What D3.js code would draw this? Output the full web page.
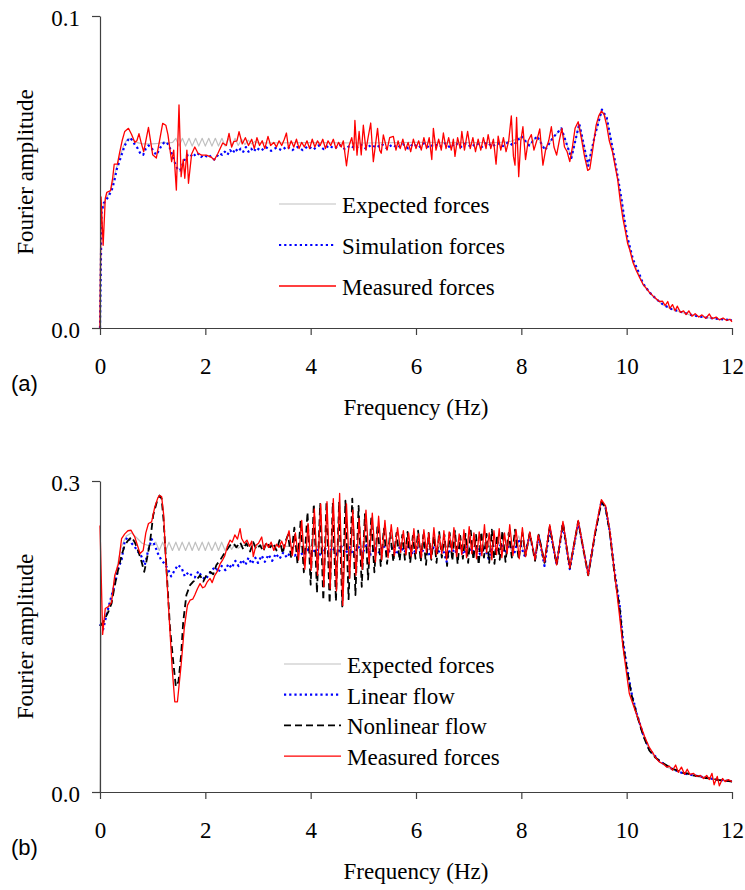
<!DOCTYPE html>
<html>
<head>
<meta charset="utf-8">
<script src="https://cdn.jsdelivr.net/npm/d3@7"></script>
<style>
  body { margin: 0; background: #fff; }
</style>
</head>
<body>
<div id="chart"></div>
<script>
// amplitudes are stored in units of 1e-3, pairs are [frequency Hz, amplitude]
const xTicks = [0, 2, 4, 6, 8, 10, 12]
const yTicksA = [0, 0.1]
const yTicksB = [0, 0.3]
const legendA = ["Expected forces", "Simulation forces", "Measured forces"]
const legendB = ["Expected forces", "Linear flow", "Nonlinear flow", "Measured forces"]

// (a) expected forces
const expectedA = [[0,0],[0.02,37],[0.1,41],[0.2,44],[0.25,47],[0.3,50.5],[0.35,53.5],[0.4,56],[0.45,58.5],[0.5,60],[0.55,60.8],[0.6,60.5],[0.7,59.5],[0.8,59],[0.9,59],[1.0,59],[1.1,59.2],[1.2,59.5],[1.3,59.3],[1.38,59.5],
  [1.44,60.8],[1.5,58.3],[1.565,60.8],[1.625,58.3],[1.69,60.8],[1.75,58.3],[1.815,60.8],[1.875,58.3],[1.94,60.8],[2.0,58.3],[2.065,60.8],[2.125,58.3],[2.19,60.8],[2.25,58.3],[2.315,60.8],[2.375,58.3],[2.44,60.8],[2.5,58.3],[2.565,60.8],[2.625,58.5],[2.69,60.5],[2.75,58.8],[2.815,60.2],[2.875,59],[2.94,59.8],[3.0,59.3],
  [4.0,59.4],[5.0,59.3],[6.0,59.5],[7.0,59.4],[7.6,59.5],[7.8,59.8],[8.0,61.2],[8.15,58.6],[8.3,61.3],[8.45,57.3],[8.6,61],[8.76,63.8],[8.95,54.6],[9.1,65.3],[9.27,52.3],[9.4,62],[9.53,69.6],[9.62,67.2],[9.7,60.3],[9.8,51.2],[9.9,41.3],[10.0,29.5],[10.12,21.5],[10.2,18.5],[10.31,14],[10.43,11.3],[10.56,9.2],[10.7,7.3],[10.85,6],[11.0,5.2],[11.2,4.2],[11.4,3.6],[11.64,3.1],[11.8,2.8],[12,2.5]]

// (a) simulation forces
const simulationA = [[0,0],[0.03,37],[0.07,40],[0.12,41],[0.17,42.5],[0.22,44],[0.27,47],[0.32,51],[0.37,53.5],[0.42,56],[0.47,58.5],[0.52,60],[0.57,61],[0.62,60],[0.67,58.5],[0.72,57.5],[0.77,55.8],[0.82,55.5],[0.87,57.5],[0.92,58.5],[0.97,58],[1.02,56.5],[1.07,55.5],[1.12,57],[1.17,58.5],[1.22,59.5],[1.27,59.5],[1.32,58],[1.37,55.5],[1.42,53],[1.47,51],[1.52,50.5],[1.57,52.5],[1.62,54.5],[1.67,55.5],[1.72,55],[1.77,56],[1.82,55],[1.87,55.8],[1.92,54.8],[1.97,55.5],[2.02,55],[2.07,55.5],[2.12,54.5],[2.17,54],[2.22,55],[2.27,56],[2.32,55.5],[2.37,56.5],[2.42,55.5],[2.47,57],[2.52,56],[2.57,57.5],[2.62,56.5],[2.67,57.5],[2.72,56.5],[2.77,58],[2.82,56.5],[2.87,57.5],[2.92,56.5],[2.97,57.8],
  [3.05,56.8],[3.15,58],[3.25,56.8],[3.35,57.8],[3.45,57],[3.55,58.2],[3.65,57],[3.75,58],[3.85,57],[3.95,58.3],[4.05,57.2],[4.15,58.5],[4.25,57.3],[4.35,58.5],[4.45,57.5],[4.55,58.7],[4.65,57.3],[4.75,58.5],[4.85,57.5],[4.95,58.8],[5.05,57.5],[5.15,58.7],[5.25,57.8],[5.35,59],[5.45,57.5],[5.55,58.8],[5.65,57.8],[5.75,59],[5.85,57.6],[5.95,59],[6.05,57.8],[6.15,59.2],[6.25,57.8],[6.35,59],[6.45,58],[6.55,59.2],[6.65,57.8],[6.75,59.3],[6.85,58],[6.95,59.2],[7.05,58],[7.15,59.3],[7.25,58],[7.35,59.5],[7.45,58.2],[7.55,59.3],[7.65,58.3],[7.75,59.5],[7.85,58.5],
  [8.0,61.5],[8.15,58.5],[8.3,61.5],[8.45,57],[8.6,61],[8.76,64],[8.95,54.5],[9.1,65.5],[9.27,52],[9.4,62],[9.53,70],[9.62,67.5],[9.7,60.5],[9.8,51.5],[9.9,41.5],[10.0,30],[10.12,22],[10.2,19],[10.31,14.3],[10.43,11.5],[10.56,9.3],[10.7,7.4],[10.85,6.1],[11.0,5.3],[11.2,4.3],[11.4,3.6],[11.64,3.1],[11.8,2.8],[12,2.5]]

// (a) measured forces
const measuredA = [[0,0],[0.02,42],[0.06,26.5],[0.1,41.5],[0.13,43.5],[0.2,44],[0.24,48],[0.27,52.5],[0.33,52.5],[0.37,56],[0.42,60],[0.47,63],[0.54,64],[0.6,62],[0.66,59.5],[0.7,60],[0.74,62.3],[0.78,59.5],[0.83,56.5],[0.92,64.3],[0.96,60],[1.0,55.5],[1.07,54.5],[1.13,60],[1.19,65.6],[1.25,65],[1.29,62],[1.36,53.3],[1.4,57],[1.45,44.2],[1.5,71.5],[1.54,48.5],[1.58,54],[1.61,48],[1.65,57],[1.68,46.4],[1.74,55.8],[1.8,58],[1.86,56],[1.93,55.4],[2.02,55.4],[2.11,54.8],[2.17,53.8],[2.24,56],[2.33,59.3],[2.4,58.5],[2.45,62.4],[2.5,58],[2.54,59.7],[2.6,60],[2.64,62.9],[2.7,59],[2.76,61],[2.82,58.5],[2.88,60.5],[2.93,57.5],[2.98,61],
  [3.03,58.5],[3.08,60],[3.13,57.5],[3.19,61.4],[3.24,58.5],[3.3,59.5],[3.35,58],[3.4,60],[3.45,58.5],[3.5,60.5],[3.54,62.5],[3.58,57.5],[3.63,60],[3.68,58],[3.73,60.5],[3.78,57.5],[3.83,59.5],[3.88,58],[3.93,60],[3.98,57.5],[4.03,60.5],[4.08,58],[4.13,60],[4.18,58.5],[4.23,60.5],[4.28,57.5],[4.33,60],[4.38,58.5],[4.43,60.5],[4.48,57.5],[4.53,59.5],[4.58,58],[4.62,60],[4.68,52],[4.73,58.5],[4.78,61],[4.82,57],[4.84,66.5],[4.88,55.4],[4.92,63],[4.96,55.5],[5.0,65],[5.05,57],[5.09,61],[5.14,65.7],[5.19,53.3],[5.24,60],[5.27,64],[5.31,57],[5.34,56],[5.38,61.9],[5.45,57],[5.5,61],[5.57,61.4],[5.62,57],[5.66,60],[5.7,57.5],[5.75,60.5],[5.8,57],[5.85,59.5],[5.9,56.5],[5.95,60.5],[6.0,57.5],
  [6.05,60],[6.1,57],[6.15,61],[6.2,57.5],[6.25,61],[6.3,54],[6.33,64],[6.38,57],[6.43,60.5],[6.48,57],[6.52,62.5],[6.57,57.5],[6.62,61],[6.67,57],[6.71,60.5],[6.74,55],[6.79,61],[6.84,57.5],[6.87,63],[6.92,57],[6.98,63],[7.03,57.5],[7.08,61],[7.13,56.5],[7.18,60.5],[7.23,57],[7.28,61],[7.33,57.5],[7.37,62],[7.42,57.5],[7.47,60.5],[7.52,52.5],[7.56,61.5],[7.61,57],[7.66,61],[7.71,56.5],[7.76,60],[7.81,68],[7.85,55],[7.88,52.2],[7.91,67.5],[7.95,48.5],[7.99,60],
  [8.03,64.5],[8.08,54],[8.13,60],[8.19,62],[8.24,57],[8.3,60.5],[8.35,63.8],[8.41,52.2],[8.46,57],[8.52,60],[8.57,64.5],[8.62,58],[8.67,55.4],[8.72,60],[8.77,64],[8.82,58],[8.87,56.5],[8.92,53.3],[8.97,58],[9.02,64],[9.08,66.1],[9.14,60.8],[9.2,55],[9.26,50.5],[9.3,51],[9.35,56.5],[9.42,65],[9.47,68],[9.52,69.5],[9.57,68.5],[9.62,65],[9.67,60],[9.73,56.5],[9.78,52],[9.83,47.5],[9.88,40.5],[9.93,35],[9.97,31.5],[10.02,27],[10.06,25],[10.12,21],[10.18,18.5],[10.25,16],[10.31,14],[10.37,12.8],[10.43,11.5],[10.5,10.3],[10.56,9.4],[10.62,8.5],[10.68,8.6],[10.73,7.2],[10.78,8.5],[10.82,6.3],[10.87,7.5],[10.92,5.5],[10.96,7],[11.02,5],[11.08,5.5],[11.13,4.3],[11.18,5.5],[11.24,3.8],[11.3,4.6],[11.37,3.5],[11.43,4.2],[11.5,3.1],[11.57,4.5],[11.62,3],[11.7,3.5],[11.76,2.6],[11.83,3.2],[11.9,2.4],[11.96,2.8],[12,2]]

// (b) expected forces
const expectedB = [[0,0],[0.02,150],[0.06,160],[0.1,168],[0.2,185],[0.3,211],[0.4,236],[0.5,247],[0.6,250],[0.7,245],[0.8,240],[0.9,238],[1.0,238],
  [1.06,241],[1.125,233],[1.19,241],[1.25,233],[1.31,241],[1.375,233],[1.44,241],[1.5,233],[1.56,241],[1.625,233],[1.69,241],[1.75,233],[1.81,241],[1.875,233],[1.94,241],[2.0,233],[2.06,241],[2.125,233],[2.19,241],[2.25,233],[2.31,241],[2.375,233],[2.44,240],[2.5,234],[2.56,239],[2.625,235],[2.7,238],
  [3.5,237],[4.5,237],[5.5,237.5],[6.5,237],[7.5,237],[7.7,244],[7.82,232],[7.95,247],[8.06,229],[8.16,250],[8.26,226],[8.33,249],[8.44,224],[8.54,256],[8.67,221],[8.79,259],[8.92,218],[9.08,261],[9.27,211],[9.4,250],[9.52,280],[9.6,274],[9.68,250],[9.77,212],[9.87,177],[9.93,145],[10.0,120],[10.09,94],[10.19,75],[10.31,55],[10.43,40],[10.62,29],[10.81,23],[11.07,18],[11.38,15],[11.7,12],[12,10]]

// (b) linear flow
const linearB = [[0,162],[0.06,157],[0.12,170],[0.19,184],[0.28,200],[0.35,216],[0.41,224],[0.47,242],[0.53,246],[0.6,240],[0.66,236.5],[0.72,232],[0.78,228],[0.85,219],[0.91,232],[0.98,244],[1.04,238],[1.1,230],[1.16,224],[1.23,220],[1.29,215],[1.35,208],[1.42,214],[1.48,219],[1.55,216],[1.61,208],[1.68,212],[1.74,209],[1.8,207],[1.87,213],[1.93,208],[2.0,205],[2.06,209],[2.12,214],[2.19,217],[2.25,212],[2.31,218],[2.38,214],[2.44,220],[2.5,216],[2.57,223],[2.63,218],[2.7,224],[2.76,219],[2.82,226],[2.88,220],[2.95,226],
  [3.0,221],[3.07,228],[3.13,222],[3.2,229],[3.27,223],[3.34,230],[3.41,225],[3.48,231],[3.55,226],[3.62,232],[3.7,228],[3.78,233],[3.86,228],[3.94,234],[4.02,229],[4.1,235],[4.18,229],[4.26,236],[4.34,230],[4.42,236],[4.5,229],[4.58,237],[4.66,230],[4.74,236],[4.82,228],[4.9,237],[4.98,230],[5.06,238],[5.14,229],[5.22,236],[5.3,231],[5.38,238],[5.46,230],[5.54,236],[5.62,229],[5.7,237],[5.78,231],[5.86,238],[5.94,229],
  [6.02,236],[6.1,230],[6.18,238],[6.26,228],[6.34,237],[6.42,231],[6.5,236],[6.58,222],[6.66,237],[6.74,230],[6.82,238],[6.9,229],[6.98,237],[7.06,231],[7.14,238],[7.22,229],[7.3,236],[7.38,225],[7.46,238],[7.54,231],[7.62,240],[7.7,230],[7.78,241],[7.86,229],[7.94,244],
  [8.06,228],[8.16,248],[8.26,225],[8.33,247],[8.44,218],[8.54,254],[8.67,219],[8.79,258],[8.92,215],[9.08,260],[9.27,210],[9.4,249],[9.52,280],[9.6,274],[9.68,251],[9.77,213],[9.87,179],[9.93,146],[10.0,122],[10.09,96],[10.19,76],[10.31,56],[10.43,41],[10.62,30],[10.81,23.5],[11.07,18],[11.38,15],[11.7,12],[12,10.5]]

// (b) nonlinear flow
const nonlinearB = [[0,160],[0.06,164],[0.16,174],[0.22,182],[0.28,199.5],[0.35,215.6],[0.41,228.5],[0.47,238],[0.54,243],[0.6,246],[0.66,241],[0.73,231.7],[0.79,222],[0.84,212.4],[0.88,222],[0.95,241],[1.01,267],[1.08,280],[1.13,286],[1.17,283],[1.21,260.6],[1.27,209],[1.33,158],[1.39,126],[1.44,101.7],[1.49,106.5],[1.54,132],[1.58,164],[1.64,190],[1.71,199.5],[1.77,203],[1.83,204.4],[1.9,209],[1.96,203],[2.02,209],[2.09,212.4],[2.15,210],[2.21,219],[2.28,223.6],[2.34,228.5],[2.4,233],[2.47,238],[2.53,240],[2.59,236],[2.66,241],[2.72,234],[2.78,240],[2.85,232],[2.91,241],[2.97,234],
  [3.04,238],[3.1,232],[3.16,241],[3.23,236],[3.29,240],[3.35,233],[3.41,243],[3.47,230],[3.51,240],[3.57,248],[3.63,226],[3.69,255],[3.75,220],[3.81,262],[3.87,212],[3.94,270],[4.0,200],[4.06,278],[4.12,192],[4.18,278],[4.24,185],[4.3,279],[4.36,182],[4.42,279],[4.48,184],[4.54,280],[4.6,179],[4.66,281],[4.72,186],[4.79,283],[4.85,190],[4.91,276],[4.97,198],[5.03,268],[5.09,205],[5.15,264],[5.21,212],[5.27,258],[5.33,218],[5.39,254],[5.45,220],[5.51,250],[5.57,222],
  [5.63,250],[5.69,223],[5.74,248],[5.79,224],[5.84,251],[5.89,221],[5.94,247],[5.99,225],[6.04,252],[6.09,222],[6.14,248],[6.19,219],[6.24,250],[6.29,224],[6.34,247],[6.39,221],[6.44,251],[6.49,226],[6.54,248],[6.59,218],[6.64,250],[6.69,223],[6.74,252],[6.79,220],[6.84,247],[6.89,225],[6.94,249],[6.99,221],[7.04,252],[7.09,224],[7.14,248],[7.19,219],[7.24,251],[7.29,226],[7.34,249],[7.39,221],[7.44,253],[7.49,220],[7.54,248],[7.59,224],[7.64,252],[7.7,222],[7.76,250],[7.82,226],[7.88,253],[7.95,224],
  [8.02,250],[8.08,228],[8.16,250],[8.26,223],[8.33,248],[8.44,221],[8.54,256],[8.67,219],[8.79,260],[8.92,216],[9.08,261],[9.27,209],[9.4,249],[9.52,280],[9.6,274],[9.68,250],[9.77,210],[9.87,176],[9.93,143],[10.0,120],[10.09,94],[10.19,75],[10.31,55],[10.43,40],[10.55,33],[10.65,29],[10.75,26],[10.85,22.5],[10.95,21],[11.05,18.5],[11.15,18],[11.25,16],[11.38,15],[11.5,13.5],[11.62,13],[11.75,11.5],[11.88,11],[12,10]]

// (b) measured forces
const measuredB = [[0,257],[0.05,152],[0.1,177],[0.16,179],[0.22,183],[0.28,209],[0.35,220],[0.41,244.5],[0.47,249],[0.53,252],[0.59,252.5],[0.66,246],[0.71,238],[0.76,230],[0.82,233],[0.87,250],[0.92,259],[0.98,260.5],[1.04,275],[1.1,284],[1.13,286],[1.17,285],[1.21,267],[1.25,222],[1.31,171],[1.37,119.5],[1.42,87],[1.47,87],[1.54,122.5],[1.6,158],[1.66,180],[1.71,185],[1.76,186],[1.8,190],[1.85,196],[1.9,201],[1.95,197],[1.99,198],[2.04,203],[2.09,206],[2.13,202],[2.18,209],[2.23,213],[2.28,220],[2.33,224],[2.37,228],[2.42,237],[2.47,243],[2.51,241],[2.56,248],[2.61,244],[2.66,254],[2.69,244.5],[2.74,240],[2.79,243],[2.84,237],[2.88,242],[2.91,227],[2.96,238],
  [3.01,240],[3.07,246],[3.11,234],[3.16,240],[3.2,236],[3.25,241],[3.3,233],[3.35,239],[3.4,236],[3.45,242],[3.5,235],[3.55,245],[3.59,252],[3.65,228],[3.71,250],[3.77,224],[3.83,262],[3.89,215],[3.95,259],[4.01,214],[4.07,273],[4.13,209],[4.19,278],[4.25,198],[4.31,280],[4.37,196],[4.43,283],[4.49,194],[4.55,288],[4.61,180],[4.68,278],[4.74,206],[4.8,272],[4.86,209],[4.92,264],[4.98,215],[5.05,272],[5.11,220],[5.17,269],[5.23,222],[5.29,266],[5.35,224],[5.41,262],[5.47,226],[5.53,258],[5.59,228],[5.65,255],
  [5.71,231],[5.76,252],[5.81,229],[5.86,250],[5.91,227],[5.96,254],[6.0,230],[6.05,249],[6.1,226],[6.15,253],[6.2,231],[6.24,250],[6.29,225],[6.34,255],[6.39,229],[6.44,248],[6.49,230],[6.53,252],[6.58,224],[6.63,251],[6.68,232],[6.72,255],[6.77,227],[6.82,249],[6.87,229],[6.91,253],[6.96,226],[7.01,256],[7.06,230],[7.1,250],[7.15,225],[7.2,251],[7.25,228],[7.3,258],[7.34,231],[7.39,250],[7.44,224],[7.48,252],[7.53,229],[7.58,254],[7.63,226],[7.68,250],[7.73,230],[7.78,258],[7.84,228],[7.9,253],[7.96,225],
  [8.02,255],[8.08,227],[8.16,251],[8.26,224],[8.32,248],[8.44,222],[8.54,258],[8.67,219],[8.79,261],[8.92,216],[9.08,262],[9.27,209],[9.4,251],[9.52,282],[9.6,276],[9.68,252],[9.77,211],[9.86,172],[9.93,140],[10.05,95],[10.18,76],[10.34,53.5],[10.43,43],[10.5,37.5],[10.55,33],[10.62,29],[10.7,27],[10.76,24],[10.81,25],[10.87,21],[10.93,26],[10.98,19],[11.04,24],[11.1,17],[11.15,22],[11.2,17],[11.27,18],[11.33,15],[11.4,16],[11.46,13],[11.52,16],[11.57,12],[11.62,18],[11.66,7],[11.72,15],[11.76,6],[11.82,13],[11.87,10],[11.93,12],[12,10]]

const width = 745, height = 890
const serif = "Liberation Serif, DejaVu Serif, serif"
const fontSize = 23

const styles = {
  expected:  { stroke: "#c0c0c0", width: 1.2, dash: null },
  linear:    { stroke: "#0000ff", width: 2.2, dash: "2.2,3" },
  nonlinear: { stroke: "#000000", width: 1.8, dash: "7,4" },
  measured:  { stroke: "#ff0000", width: 1.3, dash: null }
}

const svg = d3.select("#chart")
  .append("svg")
    .attr("width", width)
    .attr("height", height)

svg.append("rect")
    .attr("width", width)
    .attr("height", height)
    .attr("fill", "#fff")

const x = d3.scaleLinear().domain([0, 12]).range([100, 732])

const panels = [
  {
    y: d3.scaleLinear().domain([0, 0.1]).range([328, 16]),
    ticks: yTicksA, tag: "(a)",
    series: [[expectedA, styles.expected], [simulationA, styles.linear], [measuredA, styles.measured]],
    legend: legendA.map((t, i) => [t, [styles.expected, styles.linear, styles.measured][i]]),
    legendX: 279, legendY: 204, legendStep: 41
  },
  {
    y: d3.scaleLinear().domain([0, 0.3]).range([792, 481]),
    ticks: yTicksB, tag: "(b)",
    series: [[expectedB, styles.expected], [linearB, styles.linear], [nonlinearB, styles.nonlinear], [measuredB, styles.measured]],
    legend: legendB.map((t, i) => [t, [styles.expected, styles.linear, styles.nonlinear, styles.measured][i]]),
    legendX: 284, legendY: 664, legendStep: 30.7
  }
]

panels.forEach(p => {
  const y = p.y
  const g = svg.append("g")
  const bottom = y.range()[0], top = y.range()[1]

  // curves
  const line = d3.line()
    .x(d => x(d[0]))
    .y(d => y(d[1] / 1000))

  p.series.forEach(([data, s]) => {
    g.append("path")
      .datum(data)
      .attr("d", line)
      .attr("fill", "none")
      .attr("stroke", s.stroke)
      .attr("stroke-width", s.width)
      .attr("stroke-dasharray", s.dash)
      .attr("stroke-linejoin", "round")
  })

  // axes
  const xAxis = d3.axisBottom(x).tickValues(xTicks).tickSize(7).tickSizeOuter(0).tickPadding(23)
  const gx = g.append("g")
      .attr("transform", "translate(0," + bottom + ")")
      .call(xAxis)
  const yAxis = d3.axisLeft(y).tickValues(p.ticks).tickFormat(d3.format(".1f")).tickSize(8).tickSizeOuter(0).tickPadding(12)
  const gy = g.append("g")
      .attr("transform", "translate(100,0)")
      .call(yAxis)

  ;[gx, gy].forEach(a => {
    a.attr("font-family", serif).attr("font-size", fontSize)
    a.select(".domain").attr("stroke", "#404040").attr("stroke-width", 1.2)
    a.selectAll(".tick line").attr("stroke", "#404040").attr("stroke-width", 1.2)
    a.selectAll(".tick text").attr("fill", "#000")
  })
  gy.selectAll(".tick text").attr("dy", "0.4em")

  // axis titles
  g.append("text")
      .text("Frequency (Hz)")
      .attr("text-anchor", "middle")
      .attr("font-family", serif)
      .attr("font-size", fontSize)
      .attr("x", 416)
      .attr("y", bottom + 87)

  g.append("text")
      .text("Fourier amplitude")
      .attr("text-anchor", "middle")
      .attr("font-family", serif)
      .attr("font-size", fontSize)
      .attr("transform", "translate(33," + ((top + bottom) / 2) + ")rotate(-90)")

  g.append("text")
      .text(p.tag)
      .attr("x", 11)
      .attr("y", bottom + 63)
      .attr("font-family", "Liberation Sans, Arial, sans-serif")
      .attr("font-size", 22)

  // legend
  p.legend.forEach(([label, s], i) => {
    const ly = p.legendY + i * p.legendStep
    g.append("line")
        .attr("x1", p.legendX)
        .attr("x2", p.legendX + 57)
        .attr("y1", ly)
        .attr("y2", ly)
        .attr("stroke", s.stroke)
        .attr("stroke-width", s.width)
        .attr("stroke-dasharray", s.dash)
    g.append("text")
        .text(label)
        .attr("x", p.legendX + 63)
        .attr("y", ly + 9)
        .attr("font-family", serif)
        .attr("font-size", fontSize)
  })
})
</script>
</body>
</html>
